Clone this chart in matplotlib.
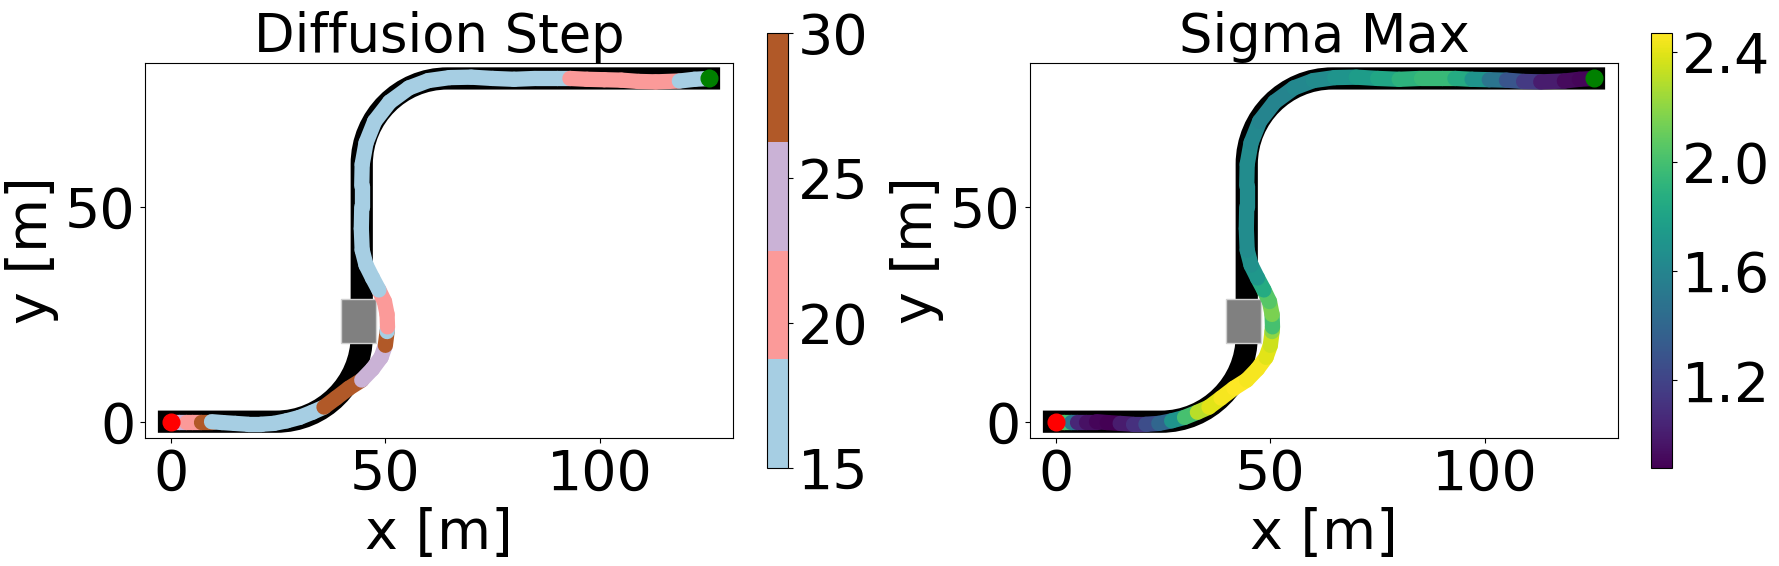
import numpy as np
import matplotlib
matplotlib.use("Agg")
import matplotlib.pyplot as plt
from matplotlib.path import Path
from matplotlib.patches import PathPatch, Rectangle
from matplotlib.collections import LineCollection
from matplotlib.colors import Normalize

plt.rcParams['font.size'] = 40

# road centre line (m), quarter bends drawn as cubic curves
road_x = [-3, 24.5, 35.5, 44.5, 44.5, 44.5, 44.5, 53.5, 64.5, 128]
road_y = [0, 0, 0, 9, 20, 60, 71, 80, 80, 80]
road_codes = [Path.MOVETO, Path.LINETO, Path.CURVE4, Path.CURVE4, Path.CURVE4,
              Path.LINETO, Path.CURVE4, Path.CURVE4, Path.CURVE4, Path.LINETO]

# obstacle box (m)
obs_x, obs_y, obs_w, obs_h = 39.6, 18.3, 8.2, 10.3

# trajectory waypoints (m)
traj_x = [0, 2, 3.5, 5, 7, 9.5, 12, 15, 18, 21, 24, 27, 30, 33, 35.7, 38.5, 41.5,
          44.5, 47, 49, 50, 50.4, 50.5, 50.4, 49.8, 48.5, 47, 45.5, 44.6, 44.4,
          44.5, 44.5, 44.6, 45.5, 47.5, 51, 55.5, 60, 65, 70, 75, 80, 85, 90, 93,
          97, 101, 105, 109, 113, 118.5, 122, 125.5]
traj_y = [0, 0, 0, 0, 0, 0, -0.2, -0.4, -0.6, -0.6, -0.4, 0.2, 1.0, 2.2, 3.4, 5.5,
          7.8, 9.7, 12.3, 15, 17.8, 21, 22.1, 25, 28, 30.7, 33.5, 36.5, 40, 45,
          50, 55, 60, 65, 70, 74.5, 77.8, 79.5, 80.2, 80.3, 80, 79.8, 80, 80, 80,
          79.8, 79.7, 79.6, 79.3, 79.2, 79.4, 79.8, 80]

# value of each segment starting at the waypoint
diff_step = [25, 25, 20, 20, 30, 15, 15, 15, 15, 15, 15, 15, 15, 15, 30, 30, 30,
             25, 25, 25, 30, 15, 20, 20, 20, 15, 15, 15, 15, 15, 15, 15, 15, 15,
             15, 15, 15, 15, 15, 15, 15, 15, 15, 15, 20, 20, 20, 20, 20, 20, 15,
             15, 15]
sigma_max = [2.35, 2.0, 1.5, 1.05, 0.95, 0.9, 0.88, 1.0, 1.1, 1.25, 1.4, 1.7, 2.0,
             2.3, 2.4, 2.45, 2.47, 2.45, 2.45, 2.4, 2.35, 2.2, 2.0, 2.15, 2.05,
             1.85, 1.72, 1.68, 1.65, 1.65, 1.65, 1.65, 1.65, 1.62, 1.6, 1.6, 1.62,
             1.65, 1.7, 1.75, 1.82, 1.9, 1.95, 1.95, 1.85, 1.7, 1.5, 1.3, 1.15,
             1.0, 0.92, 0.9, 0.9]

titles = ["Diffusion Step", "Sigma Max"]

fig = plt.figure(figsize=(17.79, 5.66), dpi=100)
W, H = 1779, 566
ax_boxes = [[145, 438, 588, 375], [1030, 438, 588, 375]]
cb_boxes = [[767, 468, 21, 435], [1651, 468, 21, 435]]

pts = np.column_stack([traj_x, traj_y])
segs = np.stack([pts[:-1], pts[1:]], axis=1)

setups = [
    (np.array(diff_step[:-1]), matplotlib.colormaps['Paired'].resampled(4),
     Normalize(15, 30), [15, 20, 25, 30], ["15", "20", "25", "30"]),
    (np.array(sigma_max[:-1]), matplotlib.colormaps['viridis'],
     Normalize(min(sigma_max), max(sigma_max)), [1.2, 1.6, 2.0, 2.4],
     ["1.2", "1.6", "2.0", "2.4"]),
]

for i in range(2):
    l, b, w, h = ax_boxes[i]
    ax = fig.add_axes([l / W, (H - b) / H, w / W, h / H])
    vals, cmap, norm, ticks, ticklabels = setups[i]

    road = PathPatch(Path(np.column_stack([road_x, road_y]), road_codes),
                     fill=False, edgecolor='black', linewidth=16,
                     capstyle='butt', zorder=1)
    ax.add_patch(road)
    ax.add_patch(Rectangle((obs_x, obs_y), obs_w, obs_h, facecolor='gray',
                           edgecolor='#d0d0d0', linewidth=1, zorder=2))

    lc = LineCollection(segs, cmap=cmap, norm=norm, linewidth=11,
                        capstyle='round', zorder=3)
    lc.set_array(vals)
    ax.add_collection(lc)
    ax.plot(traj_x[0], traj_y[0], 'o', color='red', markersize=12, zorder=4)
    ax.plot(traj_x[-1], traj_y[-1], 'o', color='green', markersize=12, zorder=4)

    ax.set_xlim(-6, 131)
    ax.set_ylim(-3.8, 83.6)
    ax.set_xticks([0, 50, 100])
    ax.set_yticks([0, 50])
    ax.set_xlabel('x [m]')
    ax.set_ylabel('y [m]')
    ax.set_title(titles[i], fontsize=38)

    l, b, w, h = cb_boxes[i]
    cax = fig.add_axes([l / W, (H - b) / H, w / W, h / H])
    cb = fig.colorbar(lc, cax=cax)
    cb.set_ticks(ticks)
    cb.set_ticklabels(ticklabels)

fig.savefig('out.png', dpi=100)
